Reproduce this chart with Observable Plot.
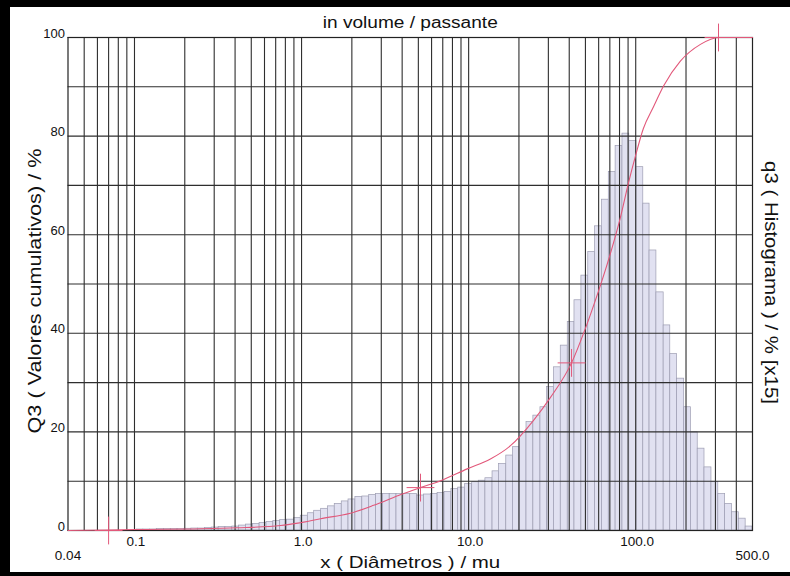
<!DOCTYPE html>
<html>
<head>
<meta charset="utf-8">
<script src="https://cdn.jsdelivr.net/npm/d3@7"></script>
<script src="https://cdn.jsdelivr.net/npm/@observablehq/plot@0.6"></script>
<style>
  html, body { margin: 0; padding: 0; background: #fff; }
  #chart { position: relative; width: 790px; height: 576px; overflow: hidden; background: #fff; }
  #chart svg { position: absolute; left: 0; top: 0; }
  #edge { position: absolute; inset: 0; box-sizing: border-box; border-style: solid; border-color: #000;
          border-width: 7px 0 4px 10px; pointer-events: none; }
</style>
</head>
<body>
<div id="chart"><div id="edge"></div></div>
<script>
// Size classes of the analyser (µm): 100 classes from 0.04 to 500
const classEdges = [
  0.0400, 0.0440, 0.0483, 0.0531, 0.0583, 0.0641, 0.0705, 0.0774, 0.0851, 0.0935,
  0.103, 0.113, 0.124, 0.136, 0.150, 0.165, 0.181, 0.199, 0.219, 0.240,
  0.264, 0.290, 0.319, 0.350, 0.385, 0.423, 0.465, 0.511, 0.561, 0.617,
  0.678, 0.745, 0.819, 0.900, 0.989, 1.09, 1.19, 1.31, 1.44, 1.58,
  1.74, 1.91, 2.10, 2.31, 2.54, 2.79, 3.07, 3.37, 3.70, 4.07,
  4.47, 4.91, 5.40, 5.94, 6.52, 7.17, 7.88, 8.66, 9.51, 10.5,
  11.5, 12.6, 13.9, 15.2, 16.8, 18.4, 20.2, 22.2, 24.4, 26.9,
  29.5, 32.4, 35.6, 39.2, 43.0, 47.3, 52.0, 57.1, 62.8, 69.0,
  75.8, 83.3, 91.5, 101, 111, 121, 133, 147, 161, 177,
  195, 214, 235, 258, 284, 312, 343, 377, 414, 455,
  500
];

// Histogram q3 per class (% x15)
const q3Histogram = [
  0, 0, 0, 0, 0, 0, 0, 0, 0, 0,
  0.2, 0.2, 0.2, 0.3, 0.3, 0.3, 0.3, 0.35, 0.4, 0.4,
  0.5, 0.6, 0.7, 0.7, 0.8, 1.0, 1.2, 1.3, 1.5, 1.7,
  1.9, 2.1, 2.2, 2.5, 3.0, 3.5, 4.0, 4.4, 4.9, 5.4,
  5.9, 6.3, 6.8, 6.9, 7.2, 7.4, 7.4, 7.4, 7.4, 7.4,
  7.4, 7.1, 7.3, 7.4, 7.6, 7.8, 8.4, 8.7, 9.4, 9.8,
  10.1, 10.6, 12.0, 13.5, 15.2, 16.9, 19.9, 22.0, 23.3, 25.0,
  29.1, 33.1, 37.5, 42.3, 46.7, 51.7, 56.5, 61.7, 67.1, 72.7,
  78.0, 80.5, 79.0, 73.7, 66.3, 56.8, 48.3, 41.6, 35.8, 30.8,
  25.0, 19.9, 16.6, 12.8, 9.8, 7.4, 5.4, 3.7, 2.4, 0.8
];

// Cumulative passing Q3 (%)
const cumDiameter = [0.04, 0.07, 0.1, 0.25, 0.41, 0.75, 0.95, 1.3, 1.96, 2.7, 3.8, 5.15, 6.8, 9.8, 13.5, 17.8,
                     24.4, 30.9, 41.3, 50, 59.8, 70.6, 81, 90.5, 99.7, 111, 128, 147, 185, 244, 313, 500];
const cumQ3 = [0, 0.1, 0.2, 0.35, 0.55, 1.0, 1.5, 2.4, 3.5, 5.1, 7.1, 8.7, 10.1, 12.5, 14.5, 17.2,
               22.3, 27, 34, 41, 48.5, 56.2, 63.5, 70.5, 76, 81.5, 86, 90.2, 95.2, 98.6, 100, 100];

// Marked points on the cumulative curve
const markerDiameter = [0.07, 5.15, 41.3, 313];
const markerQ3 = [0, 8.7, 34, 100];

// Grid and tick labels
const gridDiameters = [0.05, 0.06, 0.07, 0.08, 0.09, 0.1, 0.2, 0.3, 0.4, 0.5, 0.6, 0.7, 0.8, 0.9,
                       1, 2, 3, 4, 5, 6, 7, 8, 9, 10, 20, 30, 40, 50, 60, 70, 80, 90, 100, 200, 300, 400];
const gridPercents = [0, 10, 20, 30, 40, 50, 60, 70, 80, 90, 100];
const yTickValues = [0, 20, 40, 60, 80, 100];
const xTickValues = [0.1, 1, 10, 100];
const xTickLabels = ["0.1", "1.0", "10.0", "100.0"];
const xEndValues = [0.04, 500];
const xEndLabels = ["0.04", "500.0"];

const titleText = "in volume / passante";
const xLabelText = "x ( Diâmetros ) / mu";
const yLabelText = "Q3 ( Valores cumulativos) / %";
const rightLabelText = "q3 ( Histograma ) / % [x15]";

const bins = q3Histogram
  .map((h, i) => ({x1: classEdges[i], x2: classEdges[i + 1], h}))
  .filter(d => d.h > 0);
const cumulative = cumDiameter.map((d, i) => ({d, q: cumQ3[i]}));
const markers = markerDiameter.map((d, i) => ({d, q: markerQ3[i]}));

const red = "#e2587a";
const ink = "#111";

const chart = Plot.plot({
  width: 790,
  height: 576,
  marginLeft: 67.5,
  marginRight: 38,
  marginTop: 37,
  marginBottom: 46,
  x: {type: "log", domain: [0.04, 500], axis: null},
  y: {domain: [0, 100], axis: null},
  style: {background: "transparent", fontFamily: "'Liberation Sans', Arial, sans-serif", color: ink},
  marks: [
    // histogram bars
    Plot.rect(bins, {x1: "x1", x2: "x2", y1: 0, y2: "h", fill: "#e1e1f1", stroke: "#9d9db2", strokeWidth: 0.7}),
    // log grid
    Plot.ruleX(gridDiameters, {stroke: "#2e2e2e", strokeWidth: 1.1}),
    Plot.ruleY(gridPercents, {stroke: "#2e2e2e", strokeWidth: 1.1}),
    Plot.frame({stroke: "#222", strokeWidth: 1.2}),
    // cumulative curve and its markers
    Plot.line(cumulative, {x: "d", y: "q", curve: "monotone-x", stroke: red, strokeWidth: 1.1}),
    Plot.dot(markers, {x: "d", y: "q", symbol: "plus", r: 9, stroke: red, strokeWidth: 1}),
    // tick labels
    Plot.text(yTickValues, {y: d => d, text: d => String(d), frameAnchor: "left", textAnchor: "end",
      dx: -3, dy: -4, fontSize: 13, fill: ink}),
    Plot.text(xTickValues, {x: d => d, text: (d, i) => xTickLabels[i], frameAnchor: "bottom", lineAnchor: "top",
      dy: 6, dx: 1.5, fontSize: 13.5, fill: ink}),
    Plot.text(xEndValues, {x: d => d, text: (d, i) => xEndLabels[i], frameAnchor: "bottom", lineAnchor: "top",
      dy: 20, fontSize: 13.5, fill: ink}),
    // titles
    Plot.text([titleText], {frameAnchor: "top", lineAnchor: "bottom", dy: -10, fontSize: 16, fill: ink}),
    Plot.text([xLabelText], {frameAnchor: "bottom", lineAnchor: "bottom", dy: 37, fontSize: 16.5, fill: ink}),
    Plot.text([yLabelText], {frameAnchor: "left", textAnchor: "middle", lineAnchor: "middle", rotate: -90,
      dx: -32.5, dy: 7, fontSize: 17.5, fill: ink}),
    Plot.text([rightLabelText], {frameAnchor: "right", textAnchor: "middle", lineAnchor: "middle", rotate: 90,
      dx: 18, dy: -1.5, fontSize: 17.5, fill: ink})
  ]
});

// widen the long labels to their printed length
const printedLength = new Map([[titleText, 175], [xLabelText, 180], [yLabelText, 285], [rightLabelText, 243]]);
chart.querySelectorAll("text").forEach(t => {
  const len = printedLength.get(t.textContent);
  if (len) {
    t.setAttribute("textLength", len);
    t.setAttribute("lengthAdjust", "spacingAndGlyphs");
  }
});

const host = document.getElementById("chart");
host.insertBefore(chart, document.getElementById("edge"));
</script>
</body>
</html>
